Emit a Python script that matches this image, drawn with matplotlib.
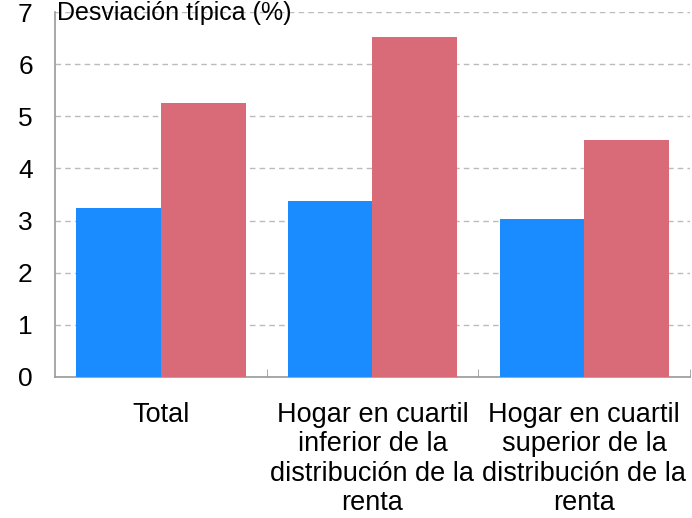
import matplotlib
matplotlib.use("Agg")
import matplotlib.pyplot as plt
import numpy as np

categories = ["Total",
              "Hogar en cuartil\ninferior de la\ndistribución de la\nrenta",
              "Hogar en cuartil\nsuperior de la\ndistribución de la\nrenta"]
serie_azul = [3.25, 3.38, 3.03]
serie_roja = [5.25, 6.52, 4.55]
y_ticks = [0, 1, 2, 3, 4, 5, 6, 7]
y_title = "Desviación típica (%)"

plt.rcParams['font.family'] = ['Liberation Sans', 'DejaVu Sans']

fig = plt.figure(figsize=(6.92, 5.18), dpi=100)
ax = fig.add_axes([55/692, 1 - 377/518, (690-55)/692, (377-12)/518])

x = np.arange(len(categories))
w = 0.4
ax.bar(x - w/2, serie_azul, width=w, color='#1a8cff', zorder=3)
ax.bar(x + w/2, serie_roja, width=w, color='#d96b78', zorder=3)

ax.set_xlim(-0.5, len(categories) - 0.5)
ax.set_ylim(0, 7)
ax.set_yticks(y_ticks)
ax.set_yticklabels([str(t) for t in y_ticks], fontsize=19)
ax.tick_params(axis='y', length=0, pad=16)
ax.yaxis.grid(True, linestyle=(0, (4, 3)), color='#bbbbbb', linewidth=1, zorder=0)

ax.set_xticks(x)
ax.set_xticklabels(categories, fontsize=19.5, linespacing=1.17, va='top')
ax.tick_params(axis='x', length=0, pad=18)
ax.set_xticks(np.arange(len(categories)) + 0.5, minor=True)
ax.tick_params(axis='x', which='minor', direction='in', length=6, color='#999999')

for s in ['top', 'right']:
    ax.spines[s].set_visible(False)
for s in ['left', 'bottom']:
    ax.spines[s].set_color('#999999')
    ax.spines[s].set_linewidth(1.2)

fig.text(57/692, 1 - 1/518, y_title, fontsize=18, ha='left', va='top')

fig.savefig("out.png", dpi=100)
